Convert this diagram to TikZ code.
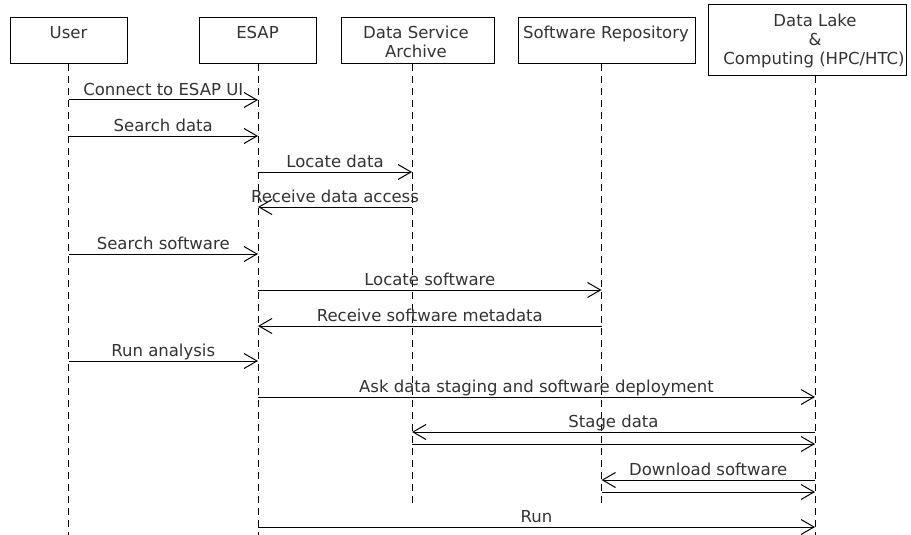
\documentclass[tikz,border=0pt]{standalone}
\usepackage{fontspec}
\setmainfont{DejaVu Sans}
\usetikzlibrary{arrows.meta}
\definecolor{txt}{HTML}{333333}
\begin{document}
\begin{tikzpicture}[x=1pt,y=-1pt,
  box/.style={draw, line width=1pt, inner sep=0pt},
  ttl/.style={anchor=base, inner sep=0pt, text=txt, font=\fontsize{16.5}{19}\selectfont},
  life/.style={line width=1pt, dash pattern=on 7pt off 5pt},
  msg/.style={line width=1pt, -{Straight Barb[length=13pt,width=15pt,line width=1pt]}},
  lbl/.style={anchor=base, inner sep=0pt, yshift=4.5pt, text=txt, font=\fontsize{16.5}{19}\selectfont}]
\useasboundingbox (0,0) rectangle (911,535);

% participant boxes
\node[box, minimum width=117pt, minimum height=46pt] (user) at (68.5,41) {};
\node[box, minimum width=117pt, minimum height=46pt] (esap) at (257.5,41) {};
\node[box, minimum width=153pt, minimum height=46pt] (dsa) at (417.5,41) {};
\node[box, minimum width=177pt, minimum height=46pt] (sr) at (606.5,41) {};
\node[box, minimum width=198pt, minimum height=71pt] (dl) at (807,40.5) {};

% titles
\node[ttl] (userT) at (68.5,39) {User};
\node[ttl] (esapT) at (257.5,39) {ESAP};
\node[ttl] (dsaT1) at (416,39) {Data Service};
\node[ttl] (dsaT2) at (416,58) {Archive};
\node[ttl] (srT) at (606,39) {Software Repository};
\node[ttl] (dlT1) at (815,27) {Data Lake};
\node[ttl] (dlT2) at (815,46) {\&};
\node[ttl] (dlT3) at (814,65) {Computing (HPC/HTC)};

% lifelines
\coordinate (uL) at (68.5,64);   \coordinate (uE) at (68.5,535);
\coordinate (eL) at (258,64);    \coordinate (eE) at (258,535);
\coordinate (aL) at (412,64);    \coordinate (aE) at (412,503);
\coordinate (sL) at (601.5,64);  \coordinate (sE) at (601.5,503);
\coordinate (dL) at (815,76);    \coordinate (dE) at (815,535);
\draw[life] (uL) -- (uE);
\draw[life] (eL) -- (eE);
\draw[life] (aL) -- (aE);
\draw[life] (sL) -- (sE);
\draw[life] (dL) -- (dE);

% message levels
\coordinate (m1) at (0,100);
\coordinate (m2) at (0,136);
\coordinate (m3) at (0,172);
\coordinate (m4) at (0,207);
\coordinate (m5) at (0,254);
\coordinate (m6) at (0,290);
\coordinate (m7) at (0,326);
\coordinate (m8) at (0,361);
\coordinate (m9) at (0,397);
\coordinate (m10) at (0,432);
\coordinate (m10b) at (0,444);
\coordinate (m11) at (0,480);
\coordinate (m11b) at (0,492);
\coordinate (m12) at (0,527);

% messages
\draw[msg] (uL |- m1) -- (eL |- m1) node[lbl, midway] {Connect to ESAP UI};
\draw[msg] (uL |- m2) -- (eL |- m2) node[lbl, midway] {Search data};
\draw[msg] (eL |- m3) -- (aL |- m3) node[lbl, midway] {Locate data};
\draw[msg] (aL |- m4) -- (eL |- m4) node[lbl, midway] {Receive data access};
\draw[msg] (uL |- m5) -- (eL |- m5) node[lbl, midway] {Search software};
\draw[msg] (eL |- m6) -- (sL |- m6) node[lbl, midway] {Locate software};
\draw[msg] (sL |- m7) -- (eL |- m7) node[lbl, midway] {Receive software metadata};
\draw[msg] (uL |- m8) -- (eL |- m8) node[lbl, midway] {Run analysis};
\draw[msg] (eL |- m9) -- (dL |- m9) node[lbl, midway] {Ask data staging and software deployment};
\draw[msg] (dL |- m10) -- (aL |- m10) node[lbl, midway] {Stage data};
\draw[msg] (aL |- m10b) -- (dL |- m10b);
\draw[msg] (dL |- m11) -- (sL |- m11) node[lbl, midway] {Download software};
\draw[msg] (sL |- m11b) -- (dL |- m11b);
\draw[msg] (eL |- m12) -- (dL |- m12) node[lbl, midway] {Run};
\end{tikzpicture}
\end{document}
